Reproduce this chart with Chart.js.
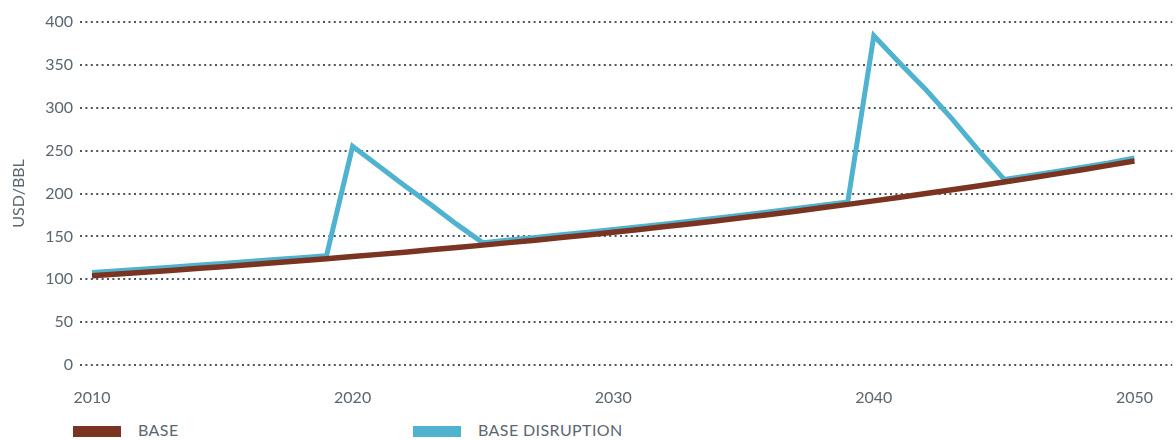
<!DOCTYPE html>
<html>
<head>
<meta charset="utf-8">
<script src="https://cdn.jsdelivr.net/npm/chart.js@4/dist/chart.umd.min.js"></script>
<style>
  html, body { margin: 0; padding: 0; background: #fff; }
  #wrap { position: relative; width: 1176px; height: 440px; font-family: Lato, "Open Sans", sans-serif; }
  #box { position: absolute; left: 0; top: 0; width: 1176px; height: 412px; }
  .leg { position: absolute; top: 420px; font-size: 16px; color: #5c6670; letter-spacing: 0.4px; }
  .leg i { position: absolute; left: 0; top: 6px; width: 48px; height: 11px; }
  .leg span { position: absolute; left: 65px; top: 0; white-space: nowrap; }
</style>
</head>
<body>
<div id="wrap">
  <div id="box"><canvas id="chart"></canvas></div>
  <div class="leg" style="left:73px"><i style="background:#7b3421"></i><span>BASE</span></div>
  <div class="leg" style="left:413px"><i style="background:#4fb3cf"></i><span>BASE DISRUPTION</span></div>
</div>
<script>
// ---------- Données ----------
const years = [
  2010, 2011, 2012, 2013, 2014, 2015, 2016, 2017, 2018, 2019,
  2020, 2021, 2022, 2023, 2024, 2025, 2026, 2027, 2028, 2029,
  2030, 2031, 2032, 2033, 2034, 2035, 2036, 2037, 2038, 2039,
  2040, 2041, 2042, 2043, 2044, 2045, 2046, 2047, 2048, 2049, 2050
];
const base = [
  104.0, 106.0, 108.1, 110.2, 112.4, 114.6, 116.9, 119.2, 121.6, 124.0,
  126.5, 129.0, 131.6, 134.3, 137.0, 139.8, 142.7, 145.6, 148.6, 151.7,
  154.9, 158.1, 161.4, 164.8, 168.3, 171.9, 175.6, 179.4, 183.3, 187.3,
  191.4, 195.6, 199.9, 204.3, 208.8, 213.4, 218.1, 222.9, 227.8, 232.8, 238.0
];
const disruption = [
  108.0, 110.0, 112.0, 114.0, 116.2, 118.4, 120.6, 122.9, 125.2, 127.5,
  255, 232, 209, 187, 164, 142.5, 145.8, 148.8, 151.8, 154.9,
  158.0, 161.2, 164.5, 167.9, 171.4, 175.0, 178.7, 182.5, 186.4, 190.0,
  384, 352, 321, 287, 251, 216.5, 221.0, 225.7, 230.6, 235.6, 241.5
];
const xTicks = [2010, 2020, 2030, 2040, 2050];
const yTicks = [0, 50, 100, 150, 200, 250, 300, 350, 400];

const grey = "#5c6670";
const font = { family: "Lato, 'Open Sans', sans-serif", size: 16 };

new Chart(document.getElementById("chart"), {
  type: "line",
  data: {
    datasets: [
      {
        label: "BASE",
        data: years.map((y, i) => ({ x: y, y: base[i] })),
        borderColor: "#7b3421",
        borderWidth: 5.5,
        pointRadius: 0,
        tension: 0,
      },
      {
        label: "BASE DISRUPTION",
        data: years.map((y, i) => ({ x: y, y: disruption[i] })),
        borderColor: "#4fb3cf",
        borderWidth: 5,
        pointRadius: 0,
        tension: 0,
        borderJoinStyle: "miter",
      },
    ],
  },
  options: {
    responsive: true,
    maintainAspectRatio: false,
    animation: false,
    layout: { padding: { top: 22, right: 0, left: 0, bottom: 0 } },
    plugins: { legend: { display: false }, tooltip: { enabled: false } },
    scales: {
      x: {
        type: "linear",
        min: 2009.54,
        max: 2051.45,
        grid: { display: false, drawTicks: false },
        border: { display: false },
        afterBuildTicks: (s) => { s.ticks = xTicks.map((v) => ({ value: v })); },
        afterFit: (s) => { s.height = 47; },
        ticks: { color: grey, font, padding: 23, maxRotation: 0, callback: (v) => String(v) },
      },
      y: {
        min: 0,
        max: 400,
        afterBuildTicks: (s) => { s.ticks = yTicks.map((v) => ({ value: v })); },
        afterFit: (s) => { s.width = 80; },
        grid: { color: "#4a5560", lineWidth: 2, drawTicks: false },
        border: { display: false, dash: [2, 3.4] },
        ticks: { color: grey, font, padding: 7 },
        title: { display: true, text: "USD/BBL", color: grey, font: { family: font.family, size: 16 }, padding: { top: 9, bottom: 0 } },
      },
    },
  },
});
</script>
</body>
</html>
